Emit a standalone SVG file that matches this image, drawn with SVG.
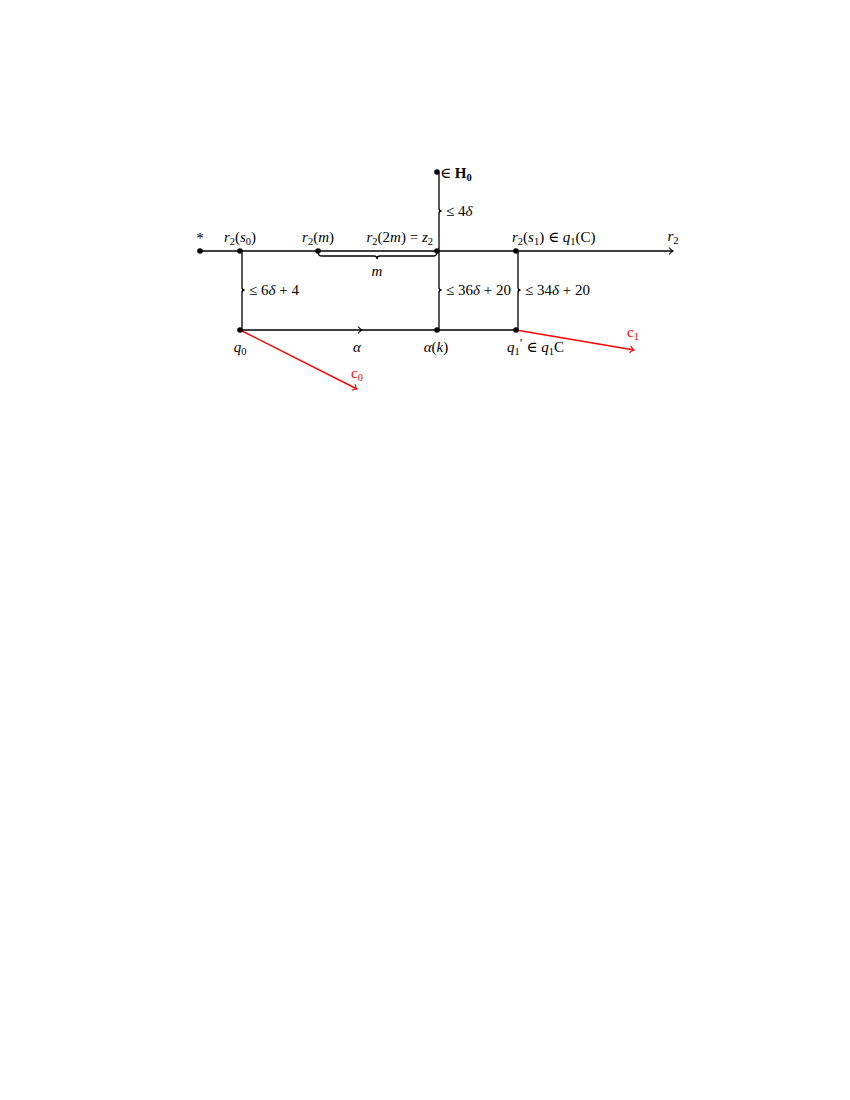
<svg xmlns="http://www.w3.org/2000/svg" width="850" height="1100" viewBox="0 0 850 1100">
<style>
text{font-family:"Liberation Serif","DejaVu Serif",serif;font-size:15px;fill:#000}
.s{font-size:10.5px}
.i{font-style:italic}
.b{font-weight:bold}
.red{fill:#ff0000}
.ln{stroke:#000;stroke-width:1.4;fill:none}
.br{stroke:#000;stroke-width:1.3;fill:none}
.rl{stroke:#ff0000;stroke-width:1.4;fill:none}
.dot{fill:#000}
</style>
<defs>
<marker id="ah" markerWidth="10" markerHeight="10" refX="6" refY="5" orient="auto" markerUnits="userSpaceOnUse">
<path d="M2,1.5 Q4,4 6,5 Q4,6 2,8.5" stroke="#000" stroke-width="1.1" fill="none"/>
</marker>
<marker id="ahr" markerWidth="10" markerHeight="10" refX="6" refY="5" orient="auto" markerUnits="userSpaceOnUse">
<path d="M2,1.5 Q4,4 6,5 Q4,6 2,8.5" stroke="#ff0000" stroke-width="1.1" fill="none"/>
</marker>
</defs>
<g id="connectors">
<line class="ln" x1="200" y1="251" x2="673" y2="251" marker-end="url(#ah)"/>
<line class="ln" x1="240" y1="330" x2="362" y2="330" marker-end="url(#ah)"/>
<line class="ln" x1="360" y1="330" x2="516" y2="330"/>
<path class="br" d="M437,172 q2,0 2,2.5 L439,208.5 q0,2.5 2.5,2.5 q-2.5,0 -2.5,2.5 L439,248.5 q0,2.5 -2,2.5"/>
<path class="br" d="M240,251 q2,0 2,2.5 L242,287.5 q0,2.5 2.5,2.5 q-2.5,0 -2.5,2.5 L242,327.5 q0,2.5 -2,2.5"/>
<path class="br" d="M437,251 q2,0 2,2.5 L439,287.5 q0,2.5 2.5,2.5 q-2.5,0 -2.5,2.5 L439,327.5 q0,2.5 -2,2.5"/>
<path class="br" d="M516,251 q2,0 2,2.5 L518,287.5 q0,2.5 2.5,2.5 q-2.5,0 -2.5,2.5 L518,327.5 q0,2.5 -2,2.5"/>
<path class="br" d="M318,251 q0,5 3,5 L374,256 q3,0 3,3 q0,-3 3,-3 L434,256 q3,0 3,-5"/>
<line class="rl" x1="240" y1="330" x2="357" y2="389" marker-end="url(#ahr)"/>
<line class="rl" x1="516" y1="330" x2="634" y2="350" marker-end="url(#ahr)"/>
</g>
<g id="star"><circle class="dot" cx="200" cy="251" r="2.8"/><text x="200" y="243" text-anchor="middle">*</text></g>
<g id="r2s0"><circle class="dot" cx="240" cy="251" r="2.8"/><text x="240" y="242" text-anchor="middle"><tspan class="i">r</tspan><tspan class="s" dy="3">2</tspan><tspan dy="-3">(</tspan><tspan class="i">s</tspan><tspan class="s" dy="3">0</tspan><tspan dy="-3">)</tspan></text></g>
<g id="r2m"><circle class="dot" cx="318" cy="251" r="2.8"/><text x="318" y="242" text-anchor="middle"><tspan class="i">r</tspan><tspan class="s" dy="3">2</tspan><tspan dy="-3">(</tspan><tspan class="i">m</tspan>)</text></g>
<g id="z2"><circle class="dot" cx="437" cy="251" r="2.8"/><text x="433" y="242" text-anchor="end"><tspan class="i">r</tspan><tspan class="s" dy="3">2</tspan><tspan dy="-3">(2</tspan><tspan class="i">m</tspan>) = <tspan class="i">z</tspan><tspan class="s" dy="3">2</tspan></text></g>
<g id="r2s1"><circle class="dot" cx="516" cy="251" r="2.8"/><text x="512" y="242"><tspan class="i">r</tspan><tspan class="s" dy="3">2</tspan><tspan dy="-3">(</tspan><tspan class="i">s</tspan><tspan class="s" dy="3">1</tspan><tspan dy="-3">) ∈ </tspan><tspan class="i">q</tspan><tspan class="s" dy="3">1</tspan><tspan dy="-3">(C)</tspan></text></g>
<g id="r2"><text x="673" y="241" text-anchor="middle"><tspan class="i">r</tspan><tspan class="s" dy="3">2</tspan></text></g>
<g id="h0"><circle class="dot" cx="437" cy="172" r="2.8"/><text x="440" y="178">∈ <tspan class="b">H</tspan><tspan class="b s" dy="3">0</tspan></text></g>
<g id="lab4d"><text x="446" y="216">≤ 4<tspan class="i">δ</tspan></text></g>
<g id="labm"><text x="377" y="276" text-anchor="middle" class="i">m</text></g>
<g id="lab6d"><text x="249" y="295">≤ 6<tspan class="i">δ</tspan> + 4</text></g>
<g id="lab36"><text x="446" y="295">≤ 36<tspan class="i">δ</tspan> + 20</text></g>
<g id="lab34"><text x="525" y="295">≤ 34<tspan class="i">δ</tspan> + 20</text></g>
<g id="q0"><circle class="dot" cx="240" cy="330" r="2.8"/><text x="240" y="352" text-anchor="middle"><tspan class="i">q</tspan><tspan class="s" dy="3">0</tspan></text></g>
<g id="alpha"><text x="357" y="352" text-anchor="middle" class="i">α</text></g>
<g id="alphak"><circle class="dot" cx="437" cy="330" r="2.8"/><text x="436" y="352" text-anchor="middle"><tspan class="i">α</tspan>(<tspan class="i">k</tspan>)</text></g>
<g id="q1p"><circle class="dot" cx="516" cy="330" r="2.8"/><text x="507" y="352"><tspan class="i">q</tspan><tspan class="s" dy="3">1</tspan><tspan font-size="13" dy="-8">′</tspan><tspan dy="5"> ∈ </tspan><tspan class="i">q</tspan><tspan class="s" dy="3">1</tspan><tspan dy="-3">C</tspan></text></g>
<g id="c0"><text x="357" y="378" text-anchor="middle" class="red">c<tspan class="s" dy="3">0</tspan></text></g>
<g id="c1"><text x="633" y="337" text-anchor="middle" class="red">c<tspan class="s" dy="3">1</tspan></text></g>
</svg>
